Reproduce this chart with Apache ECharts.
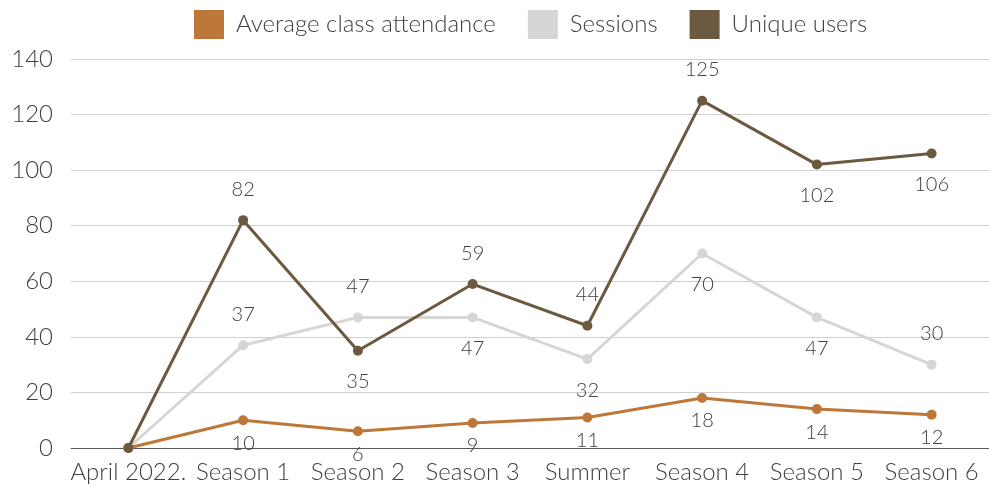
<!DOCTYPE html>
<html>
<head>
<meta charset="utf-8">
<script src="https://cdn.jsdelivr.net/npm/echarts@6/dist/echarts.min.js"></script>
<style>
  html, body { margin: 0; padding: 0; background: #fff; }
  #chart { width: 989px; height: 487px; }
</style>
</head>
<body>
<div id="chart"></div>
<script>
const categories = ['April 2022.', 'Season 1', 'Season 2', 'Season 3', 'Summer', 'Season 4', 'Season 5', 'Season 6'];
const attendance = [0, 10, 6, 9, 11, 18, 14, 12];
const sessions = [0, 37, 47, 47, 32, 70, 47, 30];
const uniqueUsers = [0, 82, 35, 59, 44, 125, 102, 106];

// where each value label sits relative to its point (null = no label)
const attendancePos = [null, 'bottom', 'bottom', 'bottom', 'bottom', 'bottom', 'bottom', 'bottom'];
const sessionsPos = [null, 'top', 'top', 'bottom', 'bottom', 'bottom', 'bottom', 'top'];
const uniquePos = [null, 'top', 'bottom', 'top', 'top', 'top', 'bottom', 'bottom'];

const FONT = 'Lato';
const TEXT = '#404040';

function points(values, positions, distance) {
  return values.map((v, i) => ({
    value: v,
    label: positions[i]
      ? { show: true, position: positions[i], distance: distance }
      : { show: false }
  }));
}

function lineSeries(name, color, values, positions, distance, z) {
  return {
    name: name,
    type: 'line',
    z: z,
    data: points(values, positions, distance),
    symbol: 'circle',
    symbolSize: 10,
    lineStyle: { color: color, width: 3 },
    itemStyle: { color: color },
    label: {
      color: TEXT,
      fontFamily: FONT,
      fontWeight: 300,
      fontSize: 20
    },
    emphasis: { disabled: true },
    animation: false
  };
}

const chart = echarts.init(document.getElementById('chart'));
chart.setOption({
  backgroundColor: '#fff',
  textStyle: { fontFamily: FONT },
  legend: {
    left: 189,
    top: 5,
    icon: 'rect',
    itemWidth: 30,
    itemHeight: 29,
    itemGap: 32,
    textStyle: { color: TEXT, fontFamily: FONT, fontWeight: 300, fontSize: 24, padding: [0, 0, 0, 7] },
    data: ['Average class attendance', 'Sessions', 'Unique users']
  },
  grid: { left: 71, top: 59, width: 925, bottom: 39, containLabel: false },
  xAxis: {
    type: 'category',
    data: categories,
    boundaryGap: true,
    axisLine: { show: true, lineStyle: { color: '#595959', width: 1 } },
    axisTick: { show: false },
    axisLabel: { color: TEXT, fontFamily: FONT, fontWeight: 300, fontSize: 24, margin: 12, interval: 0 }
  },
  yAxis: {
    type: 'value',
    min: 0,
    max: 140,
    interval: 20,
    axisLine: { show: false },
    axisTick: { show: false },
    splitLine: { lineStyle: { color: '#d0d0d0', width: 1 } },
    axisLabel: { color: TEXT, fontFamily: FONT, fontWeight: 300, fontSize: 24, margin: 18 }
  },
  series: [
    lineSeries('Average class attendance', '#BD7839', attendance, attendancePos, 8, 3),
    lineSeries('Sessions', '#D6D6D6', sessions, sessionsPos, 16, 2),
    lineSeries('Unique users', '#6B5940', uniqueUsers, uniquePos, 16, 4)
  ]
});
</script>
</body>
</html>
